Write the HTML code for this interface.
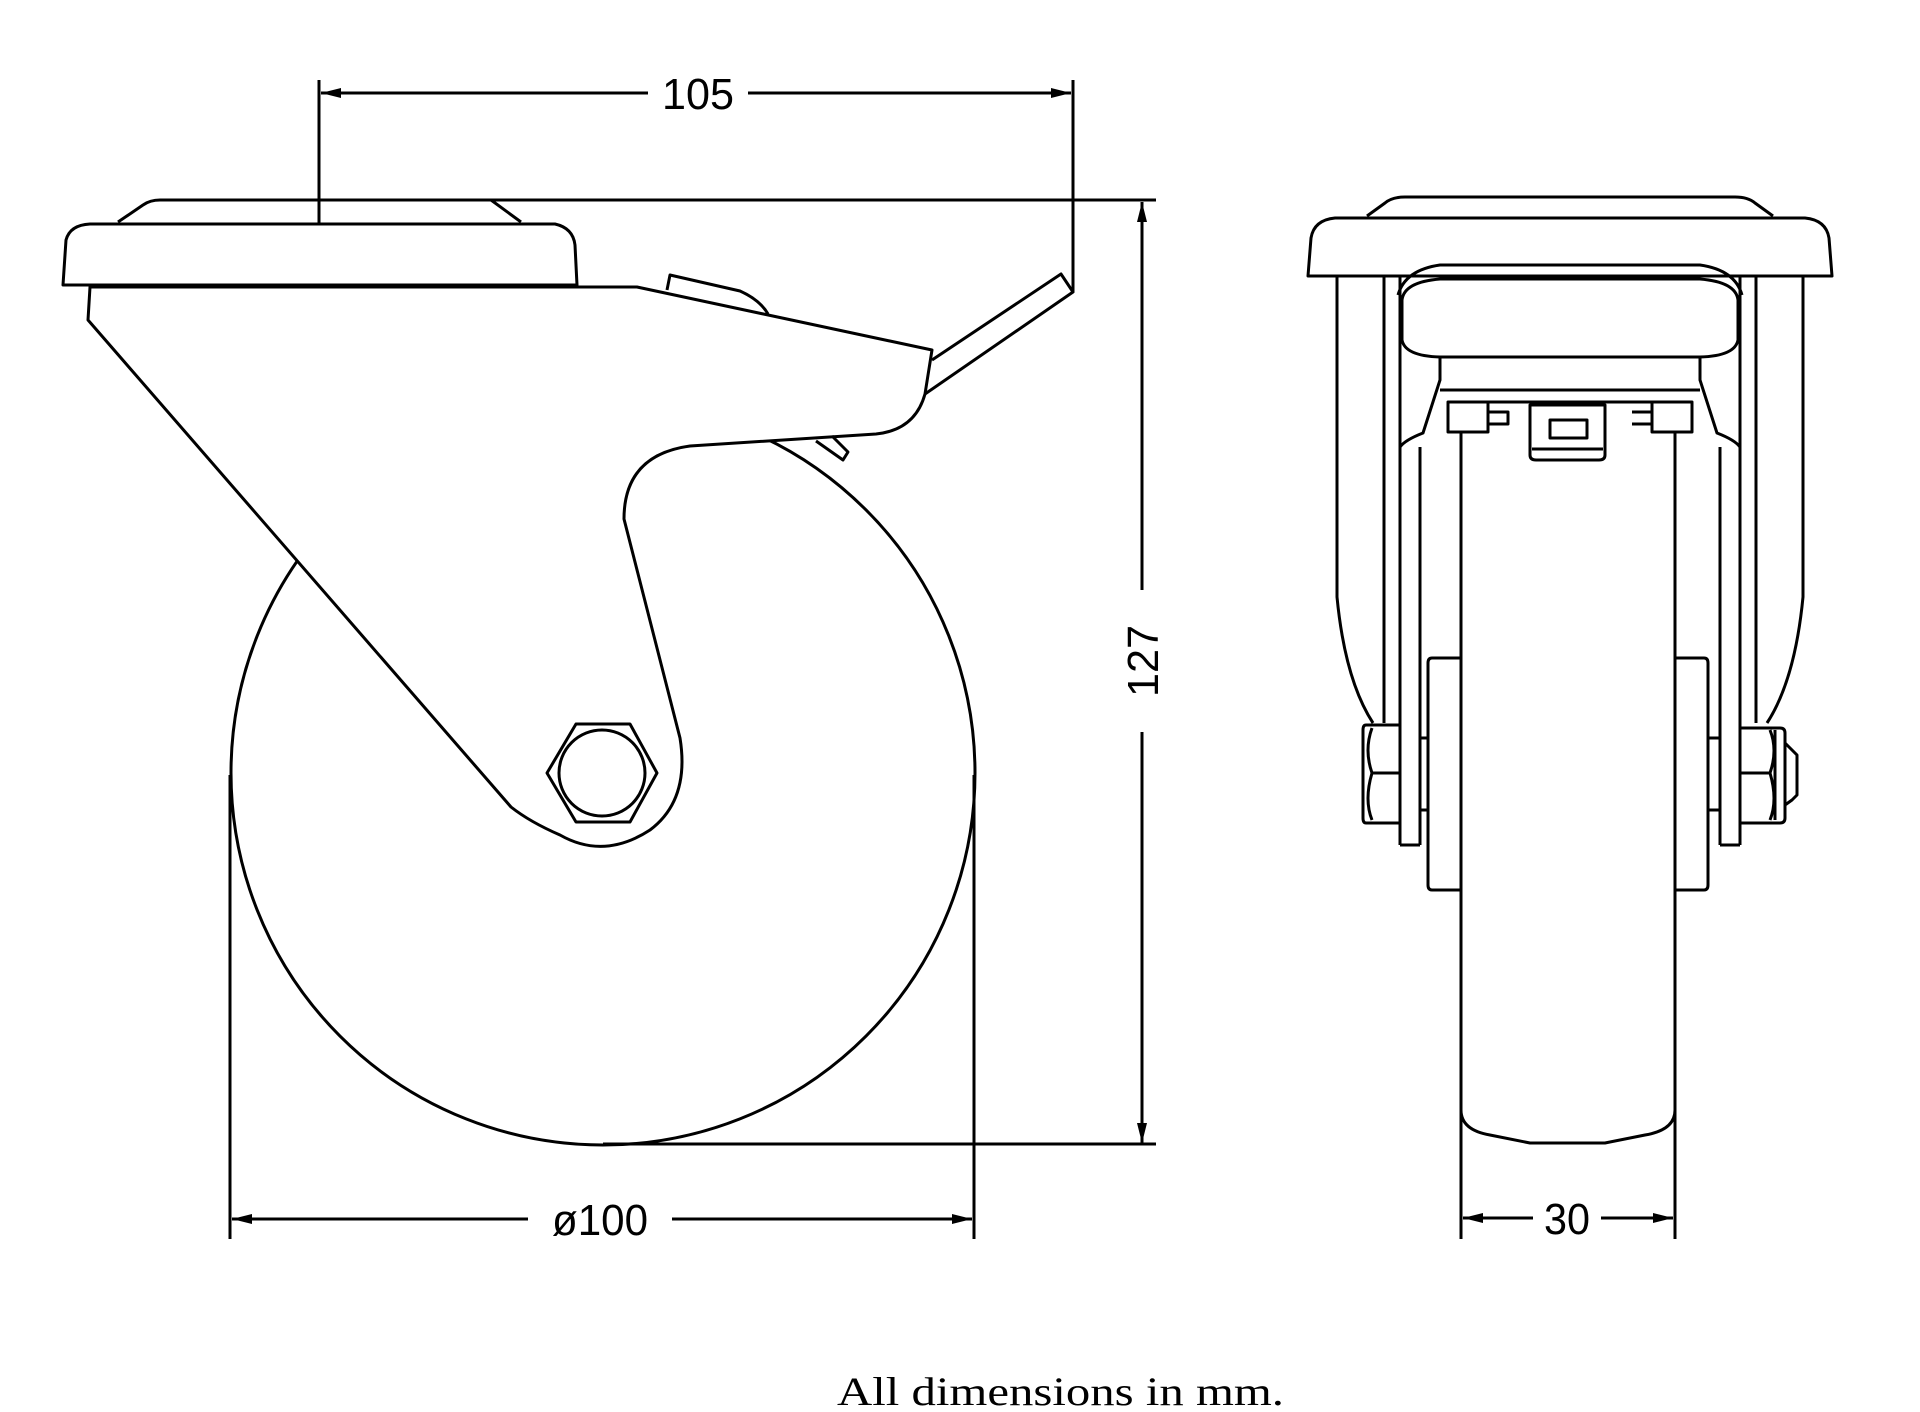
<!DOCTYPE html>
<html><head><meta charset="utf-8"><style>html,body{margin:0;padding:0;background:#fff}svg{display:block}</style></head>
<body>
<svg width="1920" height="1412" viewBox="0 0 1920 1412" xmlns="http://www.w3.org/2000/svg">
<defs>
<marker id="a" viewBox="0 0 20 10" refX="20" refY="5" markerWidth="20" markerHeight="10" orient="auto-start-reverse" markerUnits="userSpaceOnUse"><path d="M0,0 L20,5 L0,10 Z" fill="#000"/></marker>
</defs>
<g fill="none" stroke="#000" stroke-width="3" stroke-linejoin="round">
<line x1="319" y1="80" x2="319" y2="200"/>
<line x1="319" y1="200" x2="319" y2="335" stroke-dasharray="38,10"/>
<line x1="1073" y1="80" x2="1073" y2="292"/>
<line x1="648" y1="93" x2="321" y2="93" marker-end="url(#a)"/>
<line x1="748" y1="93" x2="1071" y2="93" marker-end="url(#a)"/>
<line x1="491" y1="200" x2="1156" y2="200"/>
<line x1="1142" y1="590" x2="1142" y2="202" marker-end="url(#a)"/>
<line x1="1142" y1="732" x2="1142" y2="1143" marker-end="url(#a)"/>
<line x1="603" y1="1144" x2="1156" y2="1144"/>
<line x1="230" y1="775" x2="230" y2="1239"/>
<line x1="974" y1="775" x2="974" y2="1239"/>
<line x1="528" y1="1219" x2="232" y2="1219" marker-end="url(#a)"/>
<line x1="672" y1="1219" x2="972" y2="1219" marker-end="url(#a)"/>
<circle cx="603" cy="773" r="372"/>
<path d="M118,222 L143,205 Q150,200 160,200 L491,200 L521,222"/>
<path d="M63,285 L66,240 Q70,225 90,224 L555,224 Q573,228 575,245 L577,285 Z" fill="#fff"/>
<path d="M90,287 L637,287 L932,350 L925,394 Q915,430 876,434 L690,446 Q624,455 624,519 L680,738 Q690,800 650,830 Q604,860 560,835 Q530,822 511,807 L88,320 Z" fill="#fff"/>
<path d="M667,290 L670,275 L740,291 Q760,300 768,314"/>
<path d="M816,441 L843,460 L848,452 L832,436"/>
<path d="M932,360 L1061,274 L1073,292 L925,394"/>
<polygon points="547,773 576,724 630,724 657,773 630,822 576,822"/>
<circle cx="602" cy="773" r="43"/>

<path d="M1367,216 L1385,203 Q1392,197 1405,197 L1735,197 Q1748,197 1755,203 L1773,216"/>
<path d="M1308,276 L1311,238 Q1314,220 1335,218 L1805,218 Q1826,220 1829,238 L1832,276 Z"/>
<path d="M1337,277 L1337,597 Q1345,680 1373,723"/>
<path d="M1803,277 L1803,597 Q1795,680 1767,723"/>
<line x1="1384" y1="277" x2="1384" y2="723"/>
<line x1="1400" y1="277" x2="1400" y2="845"/>
<line x1="1420" y1="447" x2="1420" y2="845"/>
<line x1="1400" y1="845" x2="1420" y2="845"/>
<line x1="1756" y1="277" x2="1756" y2="723"/>
<line x1="1740" y1="277" x2="1740" y2="845"/>
<line x1="1720" y1="447" x2="1720" y2="845"/>
<line x1="1720" y1="845" x2="1740" y2="845"/>
<path d="M1398,295 Q1405,270 1440,265 L1700,265 Q1735,270 1742,295"/>
<path d="M1402,300 Q1404,282 1440,279 L1700,279 Q1736,282 1738,300 L1738,340 Q1735,356 1700,357 L1440,357 Q1405,356 1402,340 Z" fill="#fff"/>
<path d="M1400,447 Q1405,440 1423,433 L1440,380 L1440,357"/>
<path d="M1740,447 Q1735,440 1717,433 L1700,380 L1700,357"/>
<line x1="1440" y1="390" x2="1700" y2="390"/>
<line x1="1450" y1="402" x2="1690" y2="402"/>
<rect x="1448" y="402" width="40" height="30"/>
<rect x="1652" y="402" width="40" height="30"/>
<path d="M1488,412 h20 v12 h-20 M1632,412 h20 v12 h-20"/>
<path d="M1530,405 L1530,455 Q1530,460 1536,460 L1599,460 Q1605,460 1605,455 L1605,405 Z"/>
<rect x="1550" y="420" width="37" height="18"/>
<line x1="1532" y1="449" x2="1603" y2="449"/>
<path d="M1461,432 L1461,1110 Q1461,1130 1490,1135 L1530,1143 L1605,1143 L1645,1135 Q1675,1130 1675,1110 L1675,432"/>
<path d="M1462,658 L1432,658 Q1428,658 1428,663 L1428,885 Q1428,890 1432,890 L1462,890"/>
<path d="M1675,658 L1704,658 Q1708,658 1708,663 L1708,885 Q1708,890 1704,890 L1675,890"/>
<rect x="1420" y="738" width="8" height="72"/>
<rect x="1708" y="738" width="12" height="72"/>
<path d="M1400,725 L1366,725 Q1363,725 1363,730 L1363,818 Q1363,823 1366,823 L1400,823 Z"/>
<line x1="1372" y1="773" x2="1400" y2="773"/>
<path d="M1372,728 Q1364,750 1372,773 Q1364,800 1372,820"/>
<path d="M1740,728 L1780,728 Q1785,728 1785,733 L1785,818 Q1785,823 1780,823 L1740,823 Z"/>
<line x1="1740" y1="773" x2="1770" y2="773"/>
<path d="M1770,730 Q1778,750 1770,773 Q1778,800 1770,820"/>
<line x1="1775" y1="730" x2="1775" y2="820"/>
<path d="M1785,743 L1792,750 L1797,755 L1797,795 L1792,800 L1785,805"/>
<line x1="1461" y1="1100" x2="1461" y2="1239"/>
<line x1="1675" y1="1100" x2="1675" y2="1239"/>
<line x1="1533" y1="1218" x2="1463" y2="1218" marker-end="url(#a)"/>
<line x1="1601" y1="1218" x2="1673" y2="1218" marker-end="url(#a)"/>
</g>
<g font-family="Liberation Sans, sans-serif" font-size="44" fill="#000" text-anchor="middle">
<text x="698" y="109" textLength="72" lengthAdjust="spacingAndGlyphs">105</text>
<text x="600" y="1235" textLength="96" lengthAdjust="spacingAndGlyphs">ø100</text>
<text x="1567" y="1234" textLength="46" lengthAdjust="spacingAndGlyphs">30</text>
<text transform="translate(1158,661) rotate(-90)" x="0" y="0" textLength="72" lengthAdjust="spacingAndGlyphs">127</text>
</g>
<text x="837" y="1405" font-family="Liberation Serif, serif" font-size="40" textLength="447" lengthAdjust="spacingAndGlyphs" fill="#000">All dimensions in mm.</text>
</svg>
</body></html>
